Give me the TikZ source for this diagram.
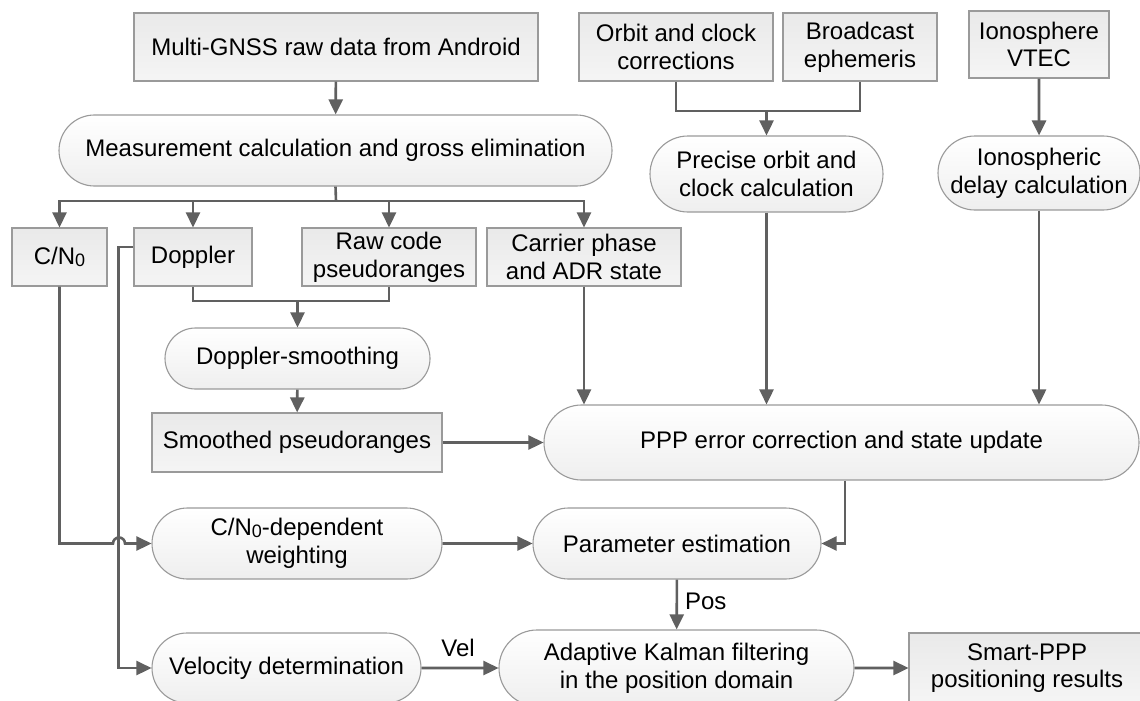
\documentclass[tikz,border=0pt]{standalone}
\usepackage{fontspec}
\setmainfont{Liberation Sans}
\usetikzlibrary{arrows.meta,shapes.misc,calc}

\definecolor{linegray}{HTML}{606060}
\definecolor{edgegray}{HTML}{9A9A9A}

\newcommand{\subzero}{\raisebox{-0.12ex}{\fontsize{9}{9}\selectfont 0}}

\tikzset{
  base/.style={draw=edgegray, line width=0.55pt, inner sep=0pt, align=center,
    font=\fontsize{12}{13.8}\selectfont, text=black},
  databox/.style={base, rectangle, top color=gray!17, bottom color=gray!8},
  procbox/.style={base, rounded rectangle, top color=white, bottom color=gray!13},
  conn/.style={draw=linegray, line width=1.3pt},
  arr/.style={conn, -{Triangle[length=7.5pt,width=7pt]}},
  lbl/.style={font=\fontsize{12}{13.8}\selectfont, inner sep=0pt, text=black}
}

\begin{document}
\begin{tikzpicture}[x=0.5pt,y=-0.5pt]
\useasboundingbox (0,0) rectangle (1140,701);
\clip (0,0) rectangle (1140,701);
\fill[white] (0,0) rectangle (1140,701);

% ---- inputs ----
\node[databox, minimum width=202pt, minimum height=34pt] (multi) at (336,47) {Multi-GNSS raw data from Android};
\node[databox, minimum width=97pt, minimum height=34pt] (orbit) at (676,47) {Orbit and clock\\corrections};
\node[databox, minimum width=77pt, minimum height=34pt] (bcast) at (860,47) {Broadcast\\ephemeris};
\node[databox, minimum width=70pt, minimum height=33.5pt] (iono) at (1039,44.5) {Ionosphere\\VTEC};

% ---- preprocessing ----
\node[procbox, minimum width=276.5pt, minimum height=35.5pt] (meas) at (335.5,150.5) {Measurement calculation and gross elimination};
\node[procbox, minimum width=116.5pt, minimum height=38pt] (prec) at (766.5,174) {Precise orbit and\\clock calculation};
\node[procbox, minimum width=101pt, minimum height=37pt] (ionod) at (1039,173) {Ionospheric\\delay calculation};

% ---- observables ----
\node[databox, minimum width=47.5pt, minimum height=29pt] (cn0) at (59.5,257) {C/N\subzero};
\node[databox, minimum width=59pt, minimum height=29pt] (dop) at (193,257) {Doppler};
\node[databox, minimum width=87pt, minimum height=29pt] (raw) at (389,257) {Raw code\\pseudoranges};
\node[databox, minimum width=97pt, minimum height=29pt] (car) at (584,257) {Carrier phase\\and ADR state};

% ---- smoothing and PPP ----
\node[procbox, minimum width=132.5pt, minimum height=30.5pt] (smooth) at (297.5,358.5) {Doppler-smoothing};
\node[databox, minimum width=145pt, minimum height=29.5pt] (smoothed) at (297,442.5) {Smoothed pseudoranges};
\node[procbox, minimum width=297.5pt, minimum height=37.5pt] (ppp) at (841.5,442.5) {PPP error correction and state update};

% ---- estimation ----
\node[procbox, minimum width=145pt, minimum height=35.5pt] (cdep) at (297,543.5) {C/N\subzero-dependent\\weighting};
\node[procbox, minimum width=144pt, minimum height=35.5pt] (param) at (677,543.5) {Parameter estimation};
\node[procbox, minimum width=134.5pt, minimum height=35pt] (vel) at (286.5,668) {Velocity determination};
\node[procbox, minimum width=177.5pt, minimum height=38pt] (adapt) at (676.5,668) {Adaptive Kalman filtering\\in the position domain};
\node[databox, minimum width=118pt, minimum height=35pt] (smart) at (1027,668) {Smart-PPP\\positioning results};

% ---- connectors ----
\draw[arr] (multi) -- (meas);

\coordinate (bus) at (336,201);
\draw[conn] (meas.south) -- (bus);
\draw[arr] (bus) -| (cn0.north);
\draw[arr] (bus) -| (dop.north);
\draw[arr] (bus) -| (raw.north);
\draw[arr] (bus) -| (car.north);

\coordinate (join1) at (297.5,301);
\draw[conn] (dop.south) |- (join1) -| (raw.south);
\draw[arr] (join1) -- (smooth.north);
\draw[arr] (smooth) -- (smoothed);
\draw[arr] (smoothed) -- (ppp);

\coordinate (join2) at (766.5,111);
\draw[conn] (orbit.south) |- (join2) -| (bcast.south);
\draw[arr] (join2) -- (prec.north);
\draw[arr] (iono) -- (ionod);

\draw[arr] (car.south) -- (car.south |- ppp.north);
\draw[arr] (prec.south) -- (prec.south |- ppp.north);
\draw[arr] (ionod.south) -- (ionod.south |- ppp.north);

\draw[arr] ([xshift=1.75pt]ppp.south) |- (param.east);

% C/N0 branch hops over the Doppler line
\draw[arr] (cn0.south) -- (cn0.south |- cdep.west) -- (113,543.5) arc (180:0:3pt) -- (cdep.west);
\draw[arr] ($(dop.west)+(0,-10)$) -| ($(vel.west)+(-33,0)$) -- (vel.west);

\draw[arr] (cdep) -- (param);
\draw[arr] (param) -- node[lbl, anchor=west, xshift=3.5pt, yshift=1.5pt] {Pos} (adapt);
\draw[arr] (vel) -- node[lbl, anchor=south, yshift=5pt, xshift=-1pt] {Vel} (adapt);
\draw[arr] (adapt) -- (smart);
\end{tikzpicture}
\end{document}
